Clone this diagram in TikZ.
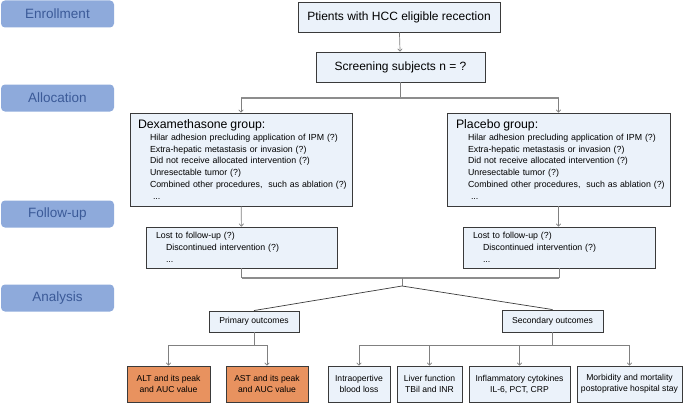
\documentclass[tikz,border=0pt]{standalone}
\usepackage{fontspec}
\setmainfont{Liberation Sans}
\usepackage{tikz}
\usetikzlibrary{arrows.meta}
\usetikzlibrary{positioning}
\usetikzlibrary{calc}

\definecolor{stagefill}{HTML}{8EAADB}
\definecolor{stagetext}{HTML}{3B5A98}
\definecolor{boxfill}{HTML}{EBF2FA}
\definecolor{boxline}{HTML}{3A3A3A}
\definecolor{outfill}{HTML}{E8925F}
\definecolor{connline}{HTML}{808080}

\tikzset{
	stage/.style={fill=stagefill, text=stagetext, rounded corners=4pt,
		minimum width=113pt, minimum height=27pt, inner sep=0pt,
		font=\fontsize{13.5}{15}\selectfont},
	box/.style={draw=boxline, fill=boxfill, line width=0.9pt, inner sep=0pt,
		align=center, font=\fontsize{8.6}{11}\selectfont},
	outbox/.style={box, fill=outfill},
	groupbox/.style={box, align=left, font=\fontsize{8.8}{11.7}\selectfont},
	conn/.style={draw=connline, line width=0.7pt},
	bar/.style={draw=connline!90, line width=1.2pt},
	arr/.style={conn, -{To[length=3pt,width=5pt]}},
}

\begin{document}
\begin{tikzpicture}[x=1pt,y=-1pt]
	\useasboundingbox (0,0) rectangle (685,404);

	% Stages
	% ------
	\node[stage] (enroll)   at (57.5,14)  {Enrollment};
	\node[stage] (alloc)    at (57.5,98)  {Allocation};
	\node[stage] (follow)   at (57.5,214) {Follow-up};
	\node[stage] (analysis) at (57.5,298) {Analysis};

	% Enrollment and allocation
	% -------------------------
	\node[box, minimum width=202pt, minimum height=30pt, font=\fontsize{12}{14}\selectfont]
		(patients) at (399,17) {Ptients with HCC eligible recection};
	\node[box, minimum width=169pt, minimum height=30pt, font=\fontsize{12}{14}\selectfont]
		(screen) at (400.5,67) {Screening subjects n = ?};

	\node[groupbox, minimum width=222pt, minimum height=93pt, text width=218pt]
		(dexa) at (241,159.5) {\hspace*{6pt}{\fontsize{12.3}{13}\selectfont Dexamethasone group:}\\[0pt]
		\hspace*{18pt}Hilar adhesion precluding application of IPM (?)\\
		\hspace*{18pt}Extra-hepatic metastasis or invasion (?)\\
		\hspace*{18pt}Did not receive allocated intervention (?)\\
		\hspace*{18pt}Unresectable tumor (?)\\
		\hspace*{18pt}Combined other procedures,\ \ such as ablation (?)\\
		\hspace*{21pt}...};
	\node[groupbox, minimum width=223pt, minimum height=93pt, text width=218pt]
		(placebo) at (558.5,159.5) {\hspace*{6.5pt}{\fontsize{12.3}{13}\selectfont Placebo group:}\\[0pt]
		\hspace*{18.5pt}Hilar adhesion precluding application of IPM (?)\\
		\hspace*{18.5pt}Extra-hepatic metastasis or invasion (?)\\
		\hspace*{18.5pt}Did not receive allocated intervention (?)\\
		\hspace*{18.5pt}Unresectable tumor (?)\\
		\hspace*{18.5pt}Combined other procedures,\ \ such as ablation (?)\\
		\hspace*{21.5pt}...};

	% Follow-up
	% ---------
	\node[groupbox, minimum width=191pt, minimum height=41pt, text width=171pt]
		(lostL) at (241.5,247.5) {Lost to follow-up (?)\\
		\hspace*{10pt}Discontinued intervention (?)\\
		\hspace*{10pt}...};
	\node[groupbox, minimum width=192pt, minimum height=41pt, text width=172pt]
		(lostR) at (559,247.5) {Lost to follow-up (?)\\
		\hspace*{10pt}Discontinued intervention (?)\\
		\hspace*{10pt}...};

	% Analysis
	% --------
	\node[box, minimum width=90pt, minimum height=21pt] (primary) at (254,321.5) {Primary outcomes};
	\node[box, minimum width=101pt, minimum height=22pt] (secondary) at (552.5,321) {Secondary outcomes};

	\node[outbox, minimum width=83pt, minimum height=36pt] (alt) at (168.5,384) {ALT and its peak\\and AUC value};
	\node[outbox, minimum width=82pt, minimum height=36pt] (ast) at (267,384) {AST and its peak\\and AUC value};
	\node[box, minimum width=62pt, minimum height=36pt] (intra) at (359,384) {Intraopertive\\blood loss};
	\node[box, minimum width=65pt, minimum height=36pt] (liver) at (429.5,384) {Liver function\\TBil and INR};
	\node[box, minimum width=101pt, minimum height=36pt] (inflam) at (519.5,384) {Inflammatory cytokines\\IL-6, PCT, CRP};
	\node[box, minimum width=105pt, minimum height=36pt] (morb) at (629.5,384) {Morbidity and mortality\\postoprative hospital stay};

	% Connectors
	% ----------
	\coordinate (split) at (400.5,98);
	\coordinate (join)  at (402,278);
	\coordinate (fork)  at (402,286);
	\coordinate (pbar)  at (254,345);
	\coordinate (sbar)  at (552.5,345);

	\draw[arr] (patients) -- (screen);
	\draw[conn] (screen) -- (split);
	\draw[bar] (dexa.north |- split) -- (placebo.north |- split);
	\draw[arr] (dexa.north |- split) -- (dexa.north);
	\draw[arr] (placebo.north |- split) -- (placebo.north);

	\draw[arr] (dexa) -- (lostL);
	\draw[arr] (placebo.south) -- (lostR.north -| placebo.south);

	\draw[conn] (lostL.south) -- (lostL.south |- join);
	\draw[conn] (lostR.south) -- (lostR.south |- join);
	\draw[bar] (lostL.south |- join) -- (lostR.south |- join);
	\draw[conn] (join) -- (fork);
	\draw[conn, draw=boxline] (fork) -- (primary.north);
	\draw[conn, draw=boxline] (fork) -- (secondary.north);

	\draw[conn] (primary) -- (pbar);
	\draw[conn] (alt.north |- pbar) -- (ast.north |- pbar);
	\draw[arr] (alt.north |- pbar) -- (alt.north);
	\draw[arr] (ast.north |- pbar) -- (ast.north);

	\draw[conn] (secondary) -- (sbar);
	\draw[conn] (intra.north |- sbar) -- (morb.north |- sbar);
	\foreach \out in {intra,liver,inflam,morb}
		\draw[arr] (\out.north |- sbar) -- (\out.north);
\end{tikzpicture}
\end{document}
